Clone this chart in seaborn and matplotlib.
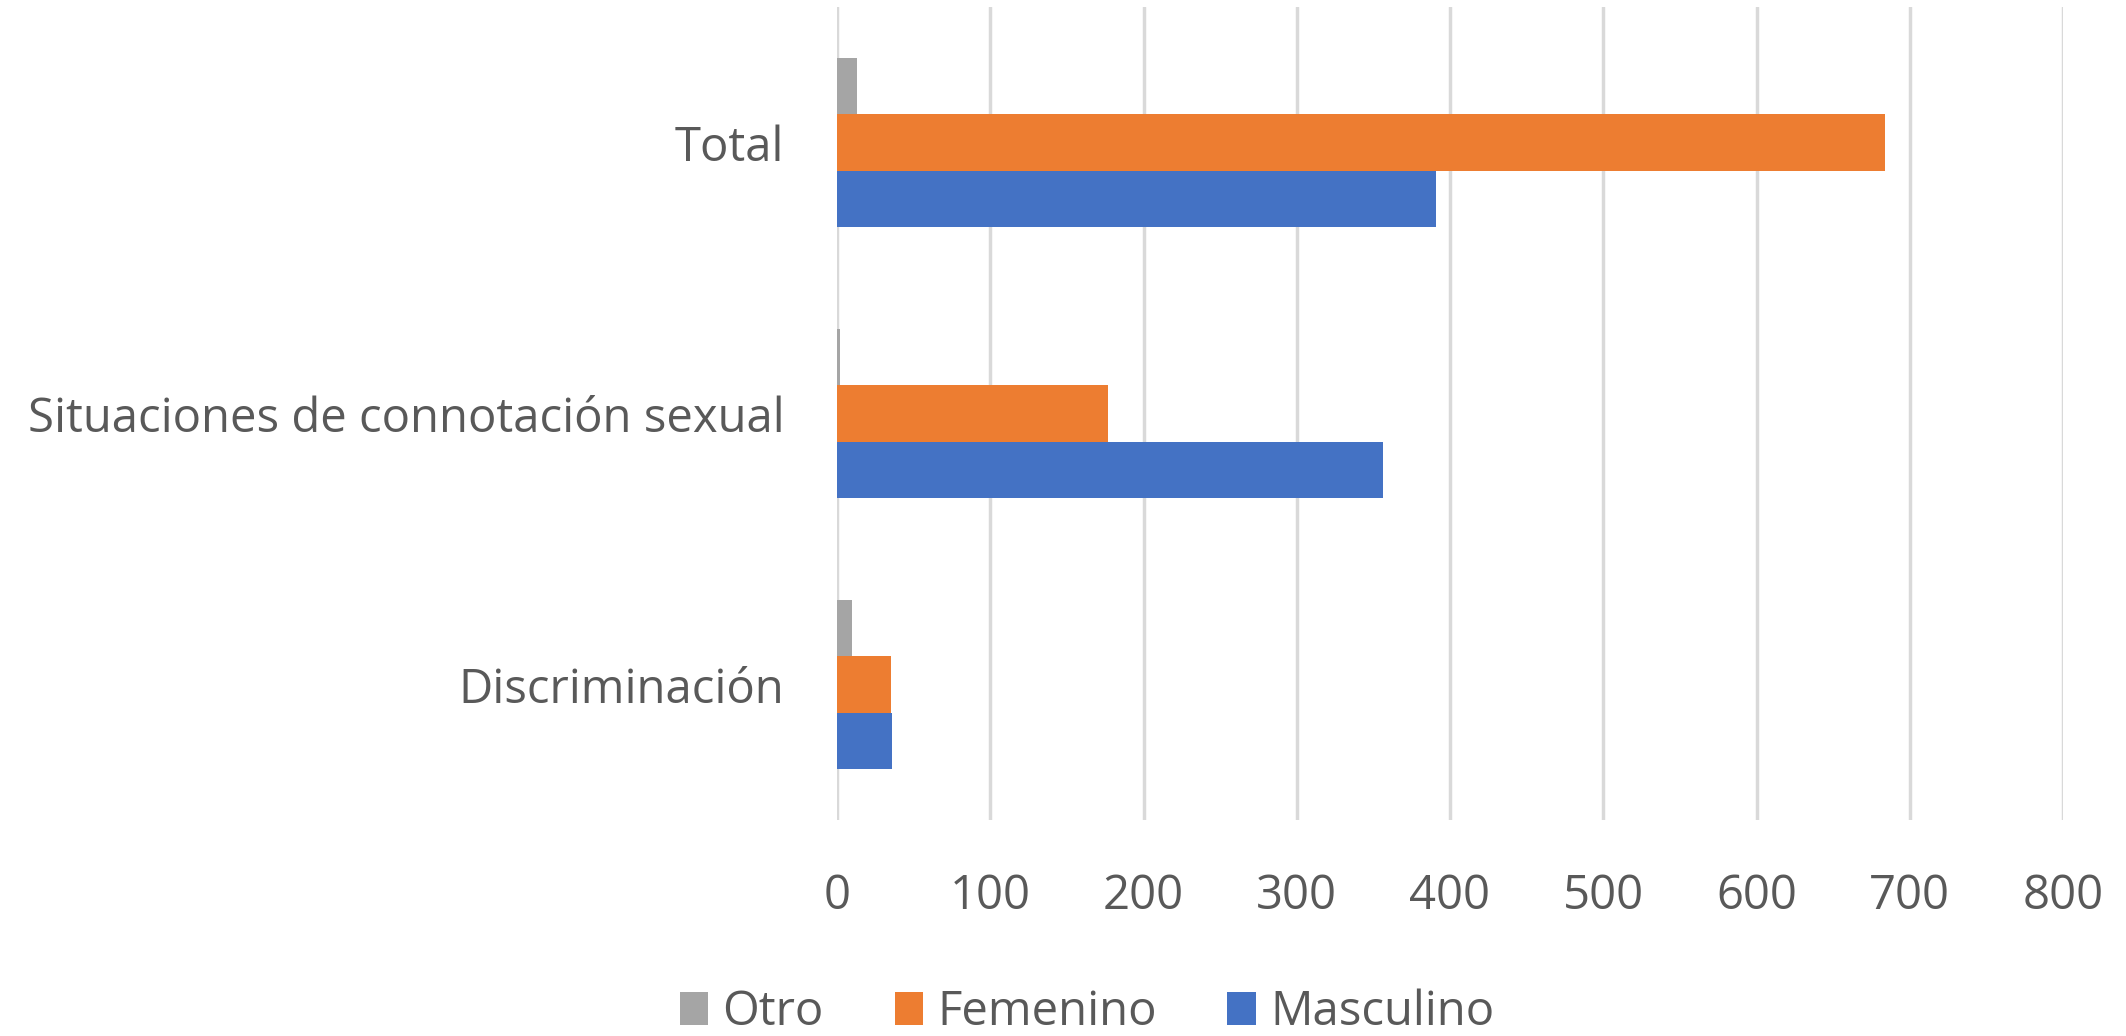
import matplotlib.pyplot as plt
import seaborn as sns
import pandas as pd

# Datos
categorias = ["Total", "Situaciones de connotación sexual", "Discriminación"]
generos = ["Otro", "Femenino", "Masculino"]
otro = [13, 2, 10]
femenino = [684, 177, 35]
masculino = [391, 356, 36]
colores = ["#A5A5A5", "#ED7D31", "#4472C4"]

df = pd.DataFrame({
    "categoria": categorias * 3,
    "genero": [g for g in generos for _ in categorias],
    "valor": otro + femenino + masculino,
})

sns.set_theme(style="white")
plt.rcParams["font.family"] = ["Open Sans", "DejaVu Sans"]

fig = plt.figure(figsize=(21.26, 10.36), dpi=100)
ax = fig.add_axes([837 / 2126, 1 - 820 / 1036, (2063 - 837) / 2126, 813 / 1036])

sns.barplot(data=df, y="categoria", x="valor", hue="genero", order=categorias,
            hue_order=generos, palette=colores, orient="h", width=0.62,
            saturation=1, linewidth=0, ax=ax, zorder=3)

ax.set_xlim(0, 800)
ax.set_ylim(2.5, -0.5)
ax.set_xticks(range(0, 801, 100))
ax.grid(axis="x", color="#D9D9D9", linewidth=2.5, zorder=0)
ax.set_axisbelow(True)
for s in ax.spines.values():
    s.set_visible(False)
ax.set_xlabel("")
ax.set_ylabel("")
ax.tick_params(axis="x", labelsize=34, labelcolor="#595959", length=0, pad=38)
ax.tick_params(axis="y", labelsize=34, labelcolor="#595959", length=0, pad=38)

handles, labels = ax.get_legend_handles_labels()
ax.legend_.remove()
fig.legend(handles, labels, loc="center", bbox_to_anchor=(1087 / 2126, 1 - 1012 / 1036),
           ncol=3, frameon=False, fontsize=34, labelcolor="#595959",
           handlelength=0.6, handleheight=0.7, handletextpad=0.3, columnspacing=1.5)

fig.savefig("out.png", dpi=100)
